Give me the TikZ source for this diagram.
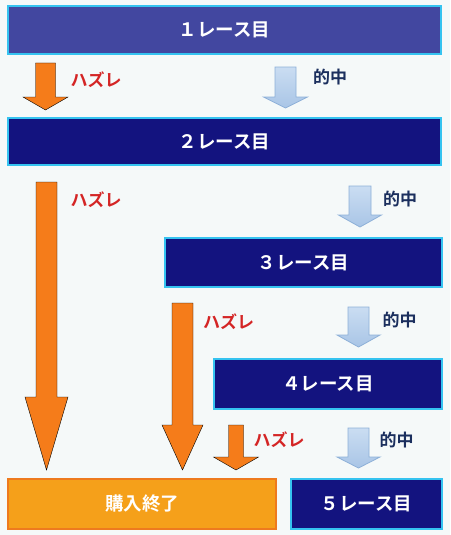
\documentclass[tikz,border=0pt]{standalone}
\usepackage{fontspec}
\setmainfont{Noto Sans CJK JP}[BoldFont={Noto Sans CJK JP Bold}]
\definecolor{bgc}{HTML}{F5F9F9}
\definecolor{cyanb}{HTML}{35C3F0}
\definecolor{firstf}{HTML}{4247A0}
\definecolor{navyf}{HTML}{13137F}
\definecolor{orgbox}{HTML}{F5A01A}
\definecolor{orgline}{HTML}{EE7A1E}
\definecolor{orgarr}{HTML}{F57C1A}
\definecolor{bluetop}{HTML}{CADDF2}
\definecolor{bluebot}{HTML}{A9C5E6}
\definecolor{blueline}{HTML}{8DB0D8}
\definecolor{hazre}{HTML}{D42525}
\definecolor{tekic}{HTML}{1B2F5E}
\newcommand\blockarr[7]{%
  \draw[#1] ({#2-#6},#3) -- ({#2+#6},#3) -- ({#2+#6},#4) -- ({#2+#7},#4)
    -- (#2,#5) -- ({#2-#7},#4) -- ({#2-#6},#4) -- cycle;}
\begin{document}
\begin{tikzpicture}[x=1pt,y=-1pt,
  race/.style={draw=cyanb, line width=2.6pt, fill=navyf, text=white,
    font=\bfseries\fontsize{18.5}{18.5}\selectfont, inner sep=0pt},
  endbox/.style={draw=orgline, line width=2pt, fill=orgbox, text=white,
    font=\bfseries\fontsize{18.5}{18.5}\selectfont, inner sep=0pt},
  missarr/.style={fill=orgarr},
  hitarr/.style={draw=blueline, line width=0.8pt, top color=bluetop, bottom color=bluebot},
  misslbl/.style={text=hazre, font=\bfseries\fontsize{17}{17}\selectfont, inner sep=0pt},
  hitlbl/.style={text=tekic, font=\bfseries\fontsize{17}{17}\selectfont, inner sep=0pt}]
\fill[bgc] (0,0) rectangle (450,535);
\useasboundingbox (0,0) rectangle (450,535);
% boxes
\node[race, fill=firstf, minimum width=433pt, minimum height=48pt] (r1) at (224.5,30) {１レース目};
\node[race, minimum width=433pt, minimum height=47pt] (r2) at (224.5,141.5) {２レース目};
\node[race, minimum width=277pt, minimum height=49pt] (r3) at (303.5,262.5) {３レース目};
\node[race, minimum width=228pt, minimum height=50pt] (r4) at (328,384) {４レース目};
\node[race, minimum width=151pt, minimum height=50pt] (r5) at (366.5,504) {５レース目};
\node[endbox, minimum width=268pt, minimum height=50pt] (end) at (142,504) {購入終了};
% orange arrows (miss)
\blockarr{missarr}{45.5}{63}{97}{110}{10}{22.5}
\blockarr{missarr}{46.5}{182}{397}{470}{10.5}{21.5}
\blockarr{missarr}{182.5}{303}{425}{470}{10.5}{20.5}
\blockarr{missarr}{236}{425}{457}{470}{7.5}{22.5}
% blue arrows (hit)
\blockarr{hitarr}{285.5}{67}{97}{108}{10.5}{22}
\blockarr{hitarr}{360}{186}{215}{227}{11}{21.5}
\blockarr{hitarr}{358.5}{307}{335}{347}{10.5}{21.5}
\blockarr{hitarr}{358.5}{428}{457}{468}{10.5}{21.5}
% labels
\node[misslbl] (m1) at (96,80) {ハズレ};
\node[misslbl] (m2) at (96,200) {ハズレ};
\node[misslbl] (m3) at (228.5,322) {ハズレ};
\node[misslbl] (m4) at (279,440) {ハズレ};
\node[hitlbl] (h1) at (330,77) {的中};
\node[hitlbl] (h2) at (400,199) {的中};
\node[hitlbl] (h3) at (399.5,320) {的中};
\node[hitlbl] (h4) at (396.5,440) {的中};
\end{tikzpicture}
\end{document}
